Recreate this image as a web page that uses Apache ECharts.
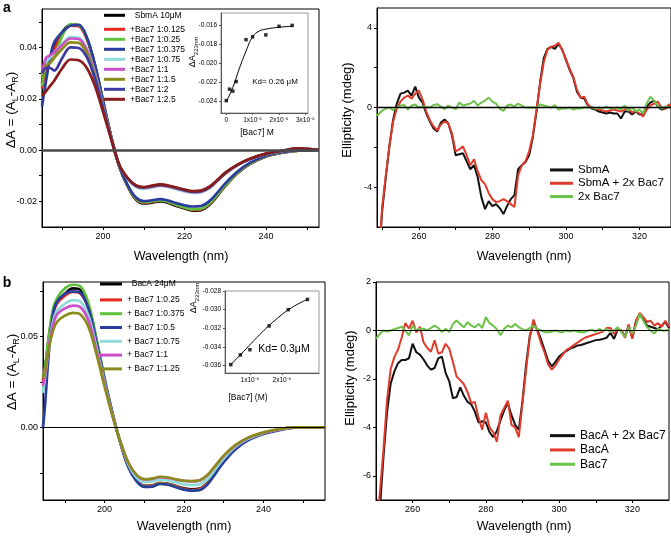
<!DOCTYPE html>
<html><head><meta charset="utf-8">
<script src="https://cdn.jsdelivr.net/npm/echarts@6/dist/echarts.min.js"></script>
<style>html,body{margin:0;padding:0;background:#fff}#c{width:671px;height:540px}</style>
</head><body><div id="c"></div>
<script>
// ---------- Panel a : SbmA titration (CD, far UV) ----------
const WL_A = [185,186,187,188,190,192,194,196,198,200,202,204,206,208,210,212,214,216,218,220,222,224,226,228,230,233,236,240,244,248,253];
const A_SBMA   = [0.026,0.034,0.036,0.040,0.046,0.0488,0.0485,0.0435,0.033,0.019,0.005,-0.0065,-0.0140,-0.0192,-0.0208,-0.0205,-0.0200,-0.0206,-0.0218,-0.0228,-0.0236,-0.0234,-0.0215,-0.0180,-0.0140,-0.0090,-0.0055,-0.0025,-0.0010,-0.0002,0.0];
const A_0125   = [0.024,0.031,0.035,0.039,0.0455,0.0485,0.0483,0.0433,0.0328,0.019,0.005,-0.0065,-0.0139,-0.0190,-0.0205,-0.0202,-0.0197,-0.0203,-0.0215,-0.0225,-0.0233,-0.0231,-0.0212,-0.0177,-0.0138,-0.0089,-0.0054,-0.0025,-0.0010,-0.0002,0.0];
const A_025    = [0.025,0.033,0.034,0.036,0.0445,0.0490,0.0488,0.0437,0.0330,0.019,0.005,-0.0065,-0.0138,-0.0188,-0.0203,-0.0200,-0.0196,-0.0202,-0.0214,-0.0224,-0.0231,-0.0229,-0.0210,-0.0176,-0.0137,-0.0088,-0.0053,-0.0024,-0.0009,-0.0002,0.0];
const A_0375   = [0.017,0.027,0.036,0.042,0.046,0.0485,0.0488,0.0440,0.0332,0.019,0.005,-0.0064,-0.0136,-0.0184,-0.0199,-0.0196,-0.0191,-0.0197,-0.0207,-0.0215,-0.0220,-0.0218,-0.0200,-0.0167,-0.0130,-0.0084,-0.0050,-0.0022,-0.0008,-0.0001,0.0];
const A_075    = [0.029,0.034,0.036,0.038,0.0415,0.0440,0.0438,0.0395,0.0300,0.0172,0.0045,-0.0060,-0.0112,-0.0142,-0.0151,-0.0146,-0.0140,-0.0144,-0.0153,-0.0161,-0.0167,-0.0165,-0.0150,-0.0122,-0.0093,-0.0060,-0.0037,-0.0016,-0.0004,0.0005,0.0];
const A_1      = [0.030,0.036,0.037,0.038,0.041,0.0435,0.0433,0.0390,0.0295,0.0170,0.0045,-0.0060,-0.0110,-0.0140,-0.0148,-0.0143,-0.0138,-0.0142,-0.0150,-0.0158,-0.0164,-0.0162,-0.0147,-0.0120,-0.0091,-0.0059,-0.0036,-0.0015,-0.0003,0.0006,0.0];
const A_15     = [0.028,0.033,0.034,0.036,0.0395,0.0420,0.0418,0.0378,0.0288,0.0167,0.0045,-0.0060,-0.0110,-0.0139,-0.0146,-0.0141,-0.0136,-0.0140,-0.0148,-0.0156,-0.0162,-0.0160,-0.0146,-0.0119,-0.0090,-0.0058,-0.0035,-0.0015,-0.0003,0.0006,0.0];
const A_2      = [0.030,0.032,0.032,0.031,0.036,0.0400,0.0398,0.0362,0.0278,0.0162,0.0044,-0.0060,-0.0110,-0.0139,-0.0146,-0.0141,-0.0136,-0.0140,-0.0148,-0.0156,-0.0162,-0.0160,-0.0146,-0.0119,-0.0090,-0.0058,-0.0035,-0.0015,-0.0003,0.0006,0.0];
const A_25     = [0.021,0.023,0.025,0.027,0.032,0.0353,0.0350,0.0320,0.0250,0.0148,0.0042,-0.0058,-0.0108,-0.0137,-0.0144,-0.0139,-0.0134,-0.0138,-0.0146,-0.0154,-0.0160,-0.0158,-0.0144,-0.0117,-0.0088,-0.0057,-0.0034,-0.0014,-0.0002,0.0007,0.0];
const NAMES_A  = ['SbmA 10μM','+Bac7 1:0.125','+Bac7 1:0.25','+Bac7 1:0.375','+Bac7 1:0.75','+Bac7 1:1','+Bac7 1:1.5','+Bac7 1:2','+Bac7 1:2.5'];
const COLORS_A = ['#000000','#e8291c','#5fc03c','#2a3c9c','#8fdada','#cc4fc8','#8c8c1c','#3b3aa0','#8a1c1c'];

// inset a : titration, dA at 223 nm vs [Bac7] (x in units of 1e-5 M)
const INA_X   = [0,0.125,0.25,0.375,0.75,1.0,1.5,2.0,2.5];
const INA_Y   = [-0.0239,-0.0227,-0.0229,-0.0219,-0.0175,-0.0172,-0.0170,-0.0161,-0.0160];
const INA_FX  = [0,0.25,0.5,0.75,1.0,1.25,1.5,2.0,2.5];
const INA_FY  = [-0.0240,-0.0225,-0.0205,-0.0187,-0.0172,-0.0166,-0.0164,-0.0162,-0.0161];

// ---------- Panel b : BacA titration ----------
const WL_B = [184.5,185,186,187,188,190,192,194,196,198,200,202,204,206,208,210,212,214,216,218,220,222,224,226,228,230,233,236,240,244,248,252,255.5];
const B_BACA = [0.026,0.032,0.050,0.063,0.069,0.0735,0.0765,0.0755,0.0665,0.0475,0.0265,0.0075,-0.0085,-0.0215,-0.0290,-0.0322,-0.0320,-0.0307,-0.0311,-0.0323,-0.0336,-0.0342,-0.0337,-0.0303,-0.0243,-0.0183,-0.0113,-0.0068,-0.0033,-0.0012,0.0,0.0,0.0];
const B_025  = [0.025,0.031,0.048,0.062,0.068,0.0725,0.0745,0.0735,0.0650,0.0465,0.0260,0.0075,-0.0085,-0.0215,-0.0290,-0.0323,-0.0321,-0.0307,-0.0312,-0.0325,-0.0338,-0.0345,-0.0339,-0.0305,-0.0245,-0.0185,-0.0115,-0.0070,-0.0034,-0.0013,0.0,0.0,0.0];
const B_0375 = [0.027,0.033,0.051,0.065,0.071,0.0765,0.0785,0.0775,0.0680,0.0485,0.0270,0.0078,-0.0086,-0.0218,-0.0293,-0.0327,-0.0325,-0.0310,-0.0315,-0.0328,-0.0342,-0.0348,-0.0343,-0.0308,-0.0247,-0.0187,-0.0117,-0.0071,-0.0035,-0.0013,0.0,0.0,0.0];
const B_05   = [0.0,0.012,0.042,0.062,0.069,0.0735,0.0748,0.0738,0.0650,0.0466,0.0260,0.0075,-0.0087,-0.0220,-0.0295,-0.0328,-0.0326,-0.0312,-0.0316,-0.0330,-0.0343,-0.0349,-0.0345,-0.0312,-0.0252,-0.0191,-0.0120,-0.0073,-0.0037,-0.0015,-0.0002,0.0,0.0];
const B_075  = [0.019,0.027,0.045,0.058,0.064,0.068,0.070,0.069,0.061,0.0438,0.0245,0.0068,-0.0082,-0.0205,-0.0275,-0.0302,-0.0298,-0.0288,-0.0292,-0.0303,-0.0314,-0.0318,-0.0313,-0.0283,-0.0228,-0.0172,-0.0107,-0.0065,-0.0032,-0.0012,0.0,0.0,0.0];
const B_1    = [0.023,0.029,0.045,0.056,0.062,0.0655,0.067,0.066,0.0585,0.042,0.0235,0.0065,-0.0080,-0.0195,-0.0262,-0.0287,-0.0284,-0.0274,-0.0278,-0.0288,-0.0295,-0.0297,-0.0292,-0.0262,-0.0210,-0.0158,-0.0099,-0.0060,-0.0030,-0.0011,0.0,0.0,0.0];
const B_125  = [0.027,0.031,0.044,0.053,0.058,0.0615,0.063,0.062,0.055,0.040,0.0225,0.0062,-0.0080,-0.0195,-0.0260,-0.0285,-0.0282,-0.0272,-0.0276,-0.0286,-0.0294,-0.0296,-0.0291,-0.0260,-0.0208,-0.0156,-0.0097,-0.0058,-0.0028,-0.0010,0.0,0.0,0.0];
const NAMES_B  = ['BacA 24μM','+ Bac7 1:0.25','+ Bac7 1:0.375','+ Bac7 1:0.5','+ Bac7 1:0.75','+ Bac7 1:1','+ Bac7 1:1.25'];
const COLORS_B = ['#000000','#e8291c','#5fc03c','#2a3c9c','#8fdada','#cc4fc8','#8c8c1c'];

// inset b (x in units of 1e-5 M)
const INB_X  = [0.4,0.7,1.0,1.6,2.2,2.8];
const INB_Y  = [-0.0359,-0.03486,-0.0343,-0.03175,-0.0300,-0.0289];
const INB_FX = [0.4,0.8,1.3,1.8,2.3,2.8];
const INB_FY = [-0.0359,-0.0345,-0.0327,-0.0311,-0.0298,-0.0289];

// ---------- Panel c : SbmA near UV ----------
const WL_C = [248,249,250,251,252,253,254,255,256,257,258,259,260,261,262,263,264,265,266,267,268,269,270,271,272,273,274,275,276,277,278,279,280,281,282,283,284,285,286,287,288,289,290,291,292,293,294,295,296,297,298,299,300,301,302,303,304,305,306,307,308,309,310,311,312,313,314,315,316,317,318,319,320,321,322,323,324,325,326,327,328,329];
const C_SBMA = [-12,-8,-5.2,-3.5,-1.9,-0.6,0.2,0.7,0.75,0.85,0.6,1.05,0.5,0.25,-0.3,-0.7,-1.05,-1.2,-0.75,-0.6,-0.8,-1.4,-2.4,-2.35,-2.3,-2.7,-3.1,-2.9,-3.5,-4.5,-5.1,-4.7,-4.95,-4.85,-5.05,-5.35,-4.95,-4.6,-4.4,-3.1,-2.9,-2.75,-2.4,-1.5,-0.2,1.3,2.5,2.95,3.05,2.95,3.2,2.9,2.4,1.9,1.5,0.8,0.5,0.45,0.1,-0.05,-0.1,-0.2,-0.25,-0.3,-0.25,-0.3,-0.3,-0.55,-0.2,-0.2,-0.35,-0.2,-0.35,-0.3,0.05,0.25,0.35,0.05,-0.1,-0.05,0.05,0.0];
const C_SBMA_BAC7 = [-12,-8,-5.0,-3.4,-1.9,-0.7,-0.05,0.3,0.5,0.6,0.45,0.7,0.85,0.4,-0.2,-0.65,-0.95,-1.15,-0.85,-0.7,-0.8,-1.3,-2.2,-2.1,-1.95,-2.4,-2.9,-2.6,-3.2,-3.65,-3.85,-4.3,-4.6,-4.75,-4.7,-4.6,-4.7,-4.85,-5.0,-3.4,-2.9,-2.7,-2.2,-1.4,-0.1,1.2,2.3,2.9,3.05,3.1,3.25,2.9,2.45,1.95,1.55,0.9,0.5,0.55,0.15,0.0,-0.05,-0.1,-0.15,-0.2,-0.15,-0.1,-0.15,-0.2,-0.1,-0.05,-0.25,-0.15,-0.3,-0.45,-0.1,0.1,0.2,0.3,0.0,-0.05,0.15,0.1];
const C_BAC7 = [-0.4,-0.35,-0.15,-0.05,0.0,-0.13,0.0,0.1,0.13,-0.1,0.1,0.15,0.0,0.05,0.03,0.0,0.13,0.17,0.05,-0.08,0.1,0.0,-0.08,0.25,0.1,0.15,0.2,0.34,0.1,0.25,0.35,0.5,0.3,0.2,-0.05,-0.17,0.1,0.15,0.05,0.2,0.1,0.0,0.0,0.0,0.0,0.15,0.1,0.05,0.0,0.12,-0.1,-0.05,-0.05,0.0,-0.1,-0.05,-0.05,0.0,0.0,0.0,-0.05,0.0,-0.05,0.03,-0.03,-0.05,0.0,-0.1,0.1,-0.15,0.0,-0.2,-0.1,-0.3,0.2,0.55,0.35,0.1,-0.05,0.05,0.0,0.0];
const NAMES_C = ['SbmA','SbmA + 2x Bac7','2x Bac7'];

// ---------- Panel d : BacA near UV ----------
const WL_D = [250,251,252,253,254,255,256,257,258,259,260,261,262,263,264,265,266,267,268,269,270,271,272,273,274,275,276,277,278,279,280,281,282,283,284,285,286,287,288,289,290,291,292,293,294,295,296,297,298,299,300,301,302,303,304,305,306,307,308,309,310,311,312,313,314,315,316,317,318,319,320,321,322,323,324,325,326,327,328,329,330];
const D_BACA_BAC7 = [-9.5,-7.5,-5.3,-3.4,-2.2,-1.7,-1.35,-1.22,-1.22,-1.15,-0.55,-0.9,-1.0,-1.2,-1.45,-1.62,-1.55,-1.15,-1.08,-1.75,-2.1,-2.8,-2.75,-2.35,-2.7,-2.95,-3.05,-3.35,-3.8,-3.75,-3.8,-4.2,-4.4,-4.15,-3.7,-3.3,-3.0,-3.5,-3.9,-4.1,-2.9,-1.4,-0.2,0.25,0.05,-0.35,-0.8,-1.25,-1.48,-1.3,-1.08,-0.95,-0.85,-0.75,-0.7,-0.62,-0.6,-0.55,-0.5,-0.45,-0.4,-0.38,-0.35,-0.3,-0.1,-0.35,0.05,0.0,-0.25,0.2,-0.3,0.4,0.65,0.45,0.2,0.15,0.1,0.05,0.2,0.35,0.1];
const D_BACA = [-8.5,-6.8,-5.0,-2.9,-1.6,-1.1,-0.8,-0.3,0.3,0.08,0.4,-0.08,0.15,-0.5,-0.72,-0.88,-0.41,-0.95,-0.9,-0.55,-0.75,-1.3,-1.9,-2.05,-2.22,-2.55,-3.0,-2.95,-3.6,-4.1,-3.4,-4.0,-4.2,-4.6,-3.5,-3.2,-2.9,-3.9,-4.0,-4.4,-3.0,-1.6,-0.3,0.45,0.0,-0.5,-0.9,-1.4,-1.62,-1.45,-1.2,-1.0,-0.8,-0.72,-0.6,-0.5,-0.4,-0.3,-0.25,-0.2,-0.15,-0.1,-0.05,0.1,0.1,-0.15,0.05,0.0,-0.3,0.25,-0.35,0.4,0.72,0.55,0.35,0.4,0.2,0.3,0.15,0.4,0.15];
const D_BAC7 = [-0.35,-0.15,0.0,-0.05,0.0,0.05,0.1,0.15,0.0,-0.2,0.2,0.0,0.07,0.07,0.0,0.1,0.2,0.1,-0.07,0.07,-0.07,0.27,0.41,0.27,0.13,0.34,0.2,0.13,0.27,0.1,0.55,0.3,0.2,0.05,-0.2,0.07,0.2,0.13,0.27,0.13,0.05,0.0,0.1,0.2,0.07,0.0,-0.07,-0.07,-0.05,0.0,-0.05,-0.07,0.0,-0.05,0.0,-0.05,-0.07,-0.07,0.0,0.03,-0.05,0.07,-0.03,0.07,-0.07,0.0,0.13,-0.07,-0.27,0.13,-0.13,0.2,0.68,0.4,0.13,0.0,-0.13,0.07,0.0,0.0,0.03];
const NAMES_D = ['BacA + 2x Bac7','BacA','Bac7'];

// tick values
const TICK_A_X = [190,200,210,220,230,240,250];
const LAB_A_X  = [200,220,240];
const TICK_A_Y = [-0.02,-0.01,0,0.01,0.02,0.03,0.04,0.05];
const LAB_A_Y  = [-0.02,0,0.02,0.04];
const TICK_B_Y = [-0.025,0,0.025,0.05,0.075];
const LAB_B_Y  = [0,0.05];
const TICK_C_X = [250,260,270,280,290,300,310,320];
const TICK_D_X = [260,270,280,290,300,310,320];
const LAB_CD_X = [260,280,300,320];
const TICK_C_Y = [-4,-2,0,2,4];
const LAB_C_Y  = [-4,0,4];
const TICK_D_Y = [-6,-4,-2,0,2];
const TICK_INA_X = [0,1,2,3];
const TICK_INA_Y = [-0.024,-0.022,-0.020,-0.018,-0.016];
const TICK_INB_X = [1,2];
const TICK_INB_Y = [-0.036,-0.034,-0.032,-0.030,-0.028];

// ---------- build ----------
const FONT = '"Liberation Sans", Arial, sans-serif';
const pairs = (xs, ys) => xs.map((x, i) => [x, ys[i]]);

function axis(gi, min, max, ticks, labels, fmt, fs, tl, col) {
  return {
    type: 'value', gridIndex: gi, min: min, max: max,
    axisLine: {show: true, onZero: false, lineStyle: {color: col, width: 1}},
    axisTick: {show: true, inside: false, length: tl, customValues: ticks, lineStyle: {color: col, width: 1}},
    axisLabel: {show: true, customValues: labels, formatter: fmt, fontSize: fs, color: '#000', fontFamily: FONT, margin: tl + 2, hideOverlap: false},
    splitLine: {show: false}
  };
}
function line(name, xs, ys, color, gi, w, smooth) {
  return {type: 'line', name: name, xAxisIndex: gi, yAxisIndex: gi, data: pairs(xs, ys),
    showSymbol: false, symbol: 'none', smooth: smooth, clip: true,
    lineStyle: {color: color, width: w}, itemStyle: {color: color}, silent: true, animation: false};
}
function zeroLine(color, w) {
  return {silent: true, symbol: ['none', 'none'], label: {show: false},
    lineStyle: {color: color, width: w, type: 'solid'}, data: [{yAxis: 0}], animation: false};
}
const fmt2 = v => (Math.abs(v) < 1e-9 ? 0 : v).toFixed(2);
const fmt3 = v => v.toFixed(3);
const fmtInt = v => String(Math.round(v));
const fmtE5 = v => (Math.abs(v) < 1e-9 ? '0' : Math.round(v) + 'x10⁻⁵');

const grids = [
  {left: 42, top: 9, width: 277, height: 218},     // a
  {left: 221, top: 13, width: 87, height: 100},    // inset a
  {left: 377, top: 8, width: 294, height: 219},    // c
  {left: 43, top: 282, width: 282, height: 218},   // b
  {left: 225, top: 291, width: 94, height: 82},    // inset b
  {left: 376, top: 282, width: 293, height: 218}   // d
].map((g, i) => Object.assign(g, {show: true, borderColor: (i === 1 || i === 4) ? '#999' : '#000', borderWidth: 1, backgroundColor: 'transparent', containLabel: false}));

const xAxes = [
  axis(0, 185, 253, TICK_A_X, LAB_A_X, fmtInt, 9, 3, '#000'),
  axis(1, -0.2, 3.1, TICK_INA_X, TICK_INA_X, fmtE5, 6.5, 2, '#555'),
  axis(2, 248.6, 328.6, TICK_C_X, LAB_CD_X, fmtInt, 9, 3, '#000'),
  axis(3, 184.5, 255.5, TICK_A_X, LAB_A_X, fmtInt, 9, 3, '#000'),
  axis(4, 0.22, 3.16, TICK_INB_X, TICK_INB_X, fmtE5, 6.5, 2, '#555'),
  axis(5, 250, 330, TICK_D_X, LAB_CD_X, fmtInt, 9, 3, '#000')
];
const yAxes = [
  axis(0, -0.03, 0.055, TICK_A_Y, LAB_A_Y, fmt2, 9, 3, '#000'),
  axis(1, -0.0252, -0.0147, TICK_INA_Y, TICK_INA_Y, fmt3, 6.5, 2, '#555'),
  axis(2, -6, 5, TICK_C_Y, LAB_C_Y, fmtInt, 9, 3, '#000'),
  axis(3, -0.04, 0.08, TICK_B_Y, LAB_B_Y, fmt2, 9, 3, '#000'),
  axis(4, -0.0368, -0.028, TICK_INB_Y, TICK_INB_Y, fmt3, 6.5, 2, '#555'),
  axis(5, -7, 2, TICK_D_Y, TICK_D_Y, fmtInt, 9, 3, '#000')
];

const seriesA = [A_SBMA, A_0125, A_025, A_0375, A_075, A_1, A_15, A_2, A_25]
  .map((ys, i) => line(NAMES_A[i], WL_A, ys, COLORS_A[i], 0, 2.7, 0.35));
seriesA[0].markLine = zeroLine('#4a4a4a', 2.5);

const seriesB = [B_BACA, B_025, B_0375, B_05, B_075, B_1, B_125]
  .map((ys, i) => line(NAMES_B[i], WL_B, ys, COLORS_B[i], 3, 2.7, 0.35));
seriesB[0].markLine = zeroLine('#000', 1);

const seriesC = [
  line(NAMES_C[0], WL_C, C_SBMA, '#111', 2, 2, false),
  line(NAMES_C[1], WL_C, C_SBMA_BAC7, '#e03a2a', 2, 2, false),
  line(NAMES_C[2], WL_C, C_BAC7, '#6cc24a', 2, 2, false)
];
seriesC[0].markLine = zeroLine('#000', 1.3);

const seriesD = [
  line(NAMES_D[0], WL_D, D_BACA_BAC7, '#111', 5, 2, false),
  line(NAMES_D[1], WL_D, D_BACA, '#e03a2a', 5, 2, false),
  line(NAMES_D[2], WL_D, D_BAC7, '#6cc24a', 5, 2, false)
];
seriesD[0].markLine = zeroLine('#000', 1.2);

const insetSeries = [
  line('fitA', INA_FX, INA_FY, '#000', 1, 1, 0.5),
  {type: 'scatter', name: 'ptsA', xAxisIndex: 1, yAxisIndex: 1, data: pairs(INA_X, INA_Y), symbol: 'rect', symbolSize: 3.5, itemStyle: {color: '#000'}, silent: true, animation: false},
  line('fitB', INB_FX, INB_FY, '#000', 4, 1, 0.5),
  {type: 'scatter', name: 'ptsB', xAxisIndex: 4, yAxisIndex: 4, data: pairs(INB_X, INB_Y), symbol: 'rect', symbolSize: 3.5, itemStyle: {color: '#000'}, silent: true, animation: false}
];

function legend(names, left, top, iw, fs, lh, fmt) {
  return {orient: 'vertical', left: left, top: top, padding: 0, itemGap: 0, itemWidth: iw, itemHeight: 3,
    icon: 'rect', data: names, selectedMode: false, formatter: fmt || (n => n),
    textStyle: {fontSize: fs, lineHeight: lh, color: '#000', fontFamily: FONT}};
}

const subRich = (fs, sfs, lh) => ({
  n: {fontSize: fs, fontFamily: FONT, lineHeight: lh, verticalAlign: 'middle', fill: '#000'},
  s: {fontSize: sfs, fontFamily: FONT, lineHeight: lh, verticalAlign: 'bottom', fill: '#000'}
});
function txt(text, x, y, size, rot, weight) {
  return {type: 'text', x: x, y: y, rotation: rot || 0, silent: true,
    style: {text: text, fontSize: size, fontWeight: weight || 'normal', fontFamily: FONT, fill: '#000', align: 'center', verticalAlign: 'middle'}};
}
const yTitleDA = '{n|ΔA = (A}{s|L}{n|-A}{s|R}{n|)}';
const yTitleIn = '{n|ΔA}{s|223nm}';

const graphics = [
  txt('a', 7, 8, 14, 0, 'bold'),
  txt('b', 7, 283, 14, 0, 'bold'),
  txt('Wavelength (nm)', 181, 257, 12.5),
  txt('Wavelength (nm)', 524, 257, 12.5),
  txt('Wavelength (nm)', 184, 527, 12.5),
  txt('Wavelength (nm)', 524, 527, 12.5),
  {type: 'text', x: 11, y: 110, rotation: Math.PI / 2, silent: true, style: {text: yTitleDA, rich: subRich(13.5, 9, 18), align: 'center', verticalAlign: 'middle', fill: '#000'}},
  {type: 'text', x: 12, y: 372, rotation: Math.PI / 2, silent: true, style: {text: yTitleDA, rich: subRich(13.5, 9, 18), align: 'center', verticalAlign: 'middle', fill: '#000'}},
  txt('Ellipticity (mdeg)', 347, 110, 13, Math.PI / 2),
  txt('Ellipticity (mdeg)', 350, 378, 13, Math.PI / 2),
  {type: 'text', x: 193, y: 52, rotation: Math.PI / 2, silent: true, style: {text: yTitleIn, rich: subRich(9, 6, 12), align: 'center', verticalAlign: 'middle', fill: '#000'}},
  {type: 'text', x: 194, y: 298, rotation: Math.PI / 2, silent: true, style: {text: yTitleIn, rich: subRich(9, 6, 12), align: 'center', verticalAlign: 'middle', fill: '#000'}},
  txt('[Bac7] M', 257, 133, 8.5),
  txt('[Bac7] (M)', 248, 398, 8.5),
  txt('Kd= 0.26 μM', 275, 82, 8),
  txt('Kd= 0.3μM', 284, 349, 10.5)
];

const option = {
  animation: false,
  backgroundColor: '#fff',
  textStyle: {fontFamily: FONT},
  grid: grids,
  xAxis: xAxes,
  yAxis: yAxes,
  legend: [
    legend([NAMES_A[0]], 104, 10.3, 21, 8.5, 10, n => '  ' + n),
    legend(NAMES_A.slice(1), 104, 24.3, 21, 8.5, 10),
    legend([NAMES_B[0]], 100, 278, 22, 8.5, 12, n => '  ' + n),
    legend(NAMES_B.slice(1), 100, 293, 22, 8.5, 13.8),
    legend(NAMES_C, 550, 163.3, 23, 11.5, 13.3),
    legend(NAMES_D, 550, 428.5, 25, 12, 14.3)
  ],
  series: [].concat(seriesA, seriesB, seriesC, seriesD, insetSeries),
  graphic: graphics
};

const chart = echarts.init(document.getElementById('c'), null, {renderer: 'canvas', width: 671, height: 540});
chart.setOption(option);
</script></body></html>
